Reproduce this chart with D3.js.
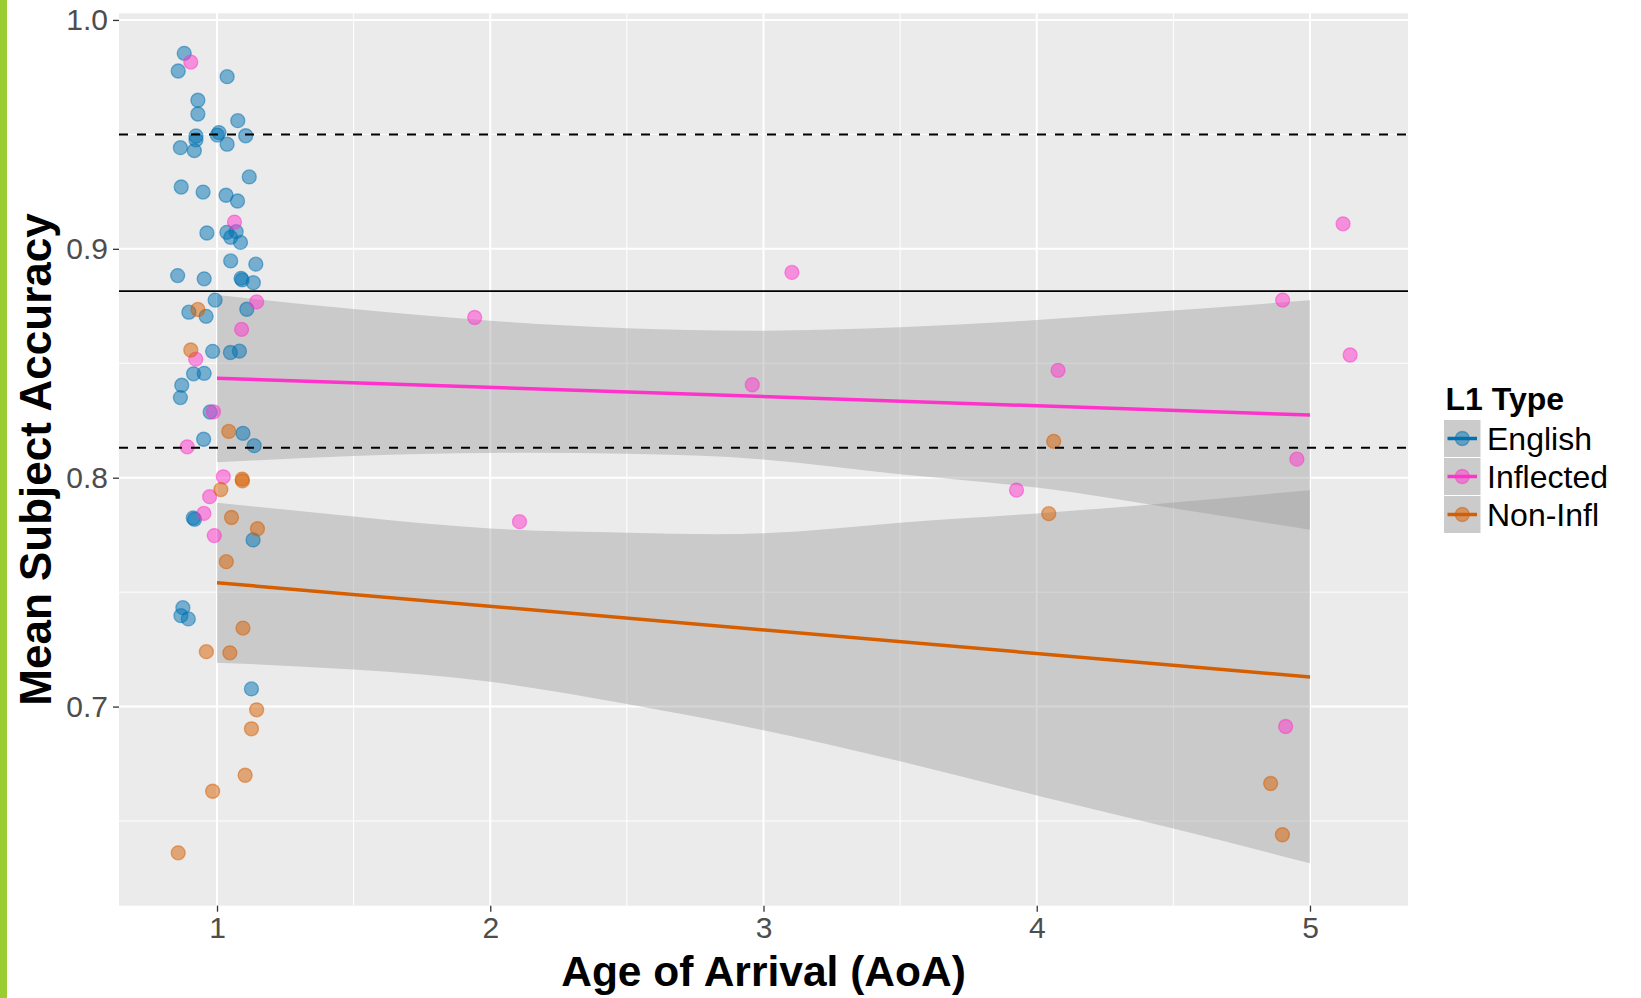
<!DOCTYPE html>
<html>
<head>
<meta charset="utf-8">
<script src="https://cdn.jsdelivr.net/npm/d3@7"></script>
<style>
body { margin: 0; background: #fff; }
text { font-family: "Liberation Sans", Arial, Helvetica, sans-serif; }
</style>
</head>
<body>
<div class="vis-area"></div>
<script>
var width = 1641;
var height = 998;
var panel = {left: 119, right: 1408, top: 13.3, bottom: 905.7};

// groups + colours
var groups = ['English', 'Inflected', 'Non-Infl'];
var groupColors = ['#0072B2', '#FF33CC', '#D55E00'];

// points
var englishAoa = [0.880,0.858,1.037,0.930,0.930,1.076,0.923,0.923,0.866,0.917,1.007,1.001,1.105,1.037,1.118,0.869,0.949,1.033,1.075,0.963,1.036,1.070,1.050,1.086,1.050,1.142,0.856,0.953,1.088,1.092,1.133,0.993,0.897,0.960,1.109,0.984,1.049,1.082,0.914,0.953,0.871,0.866,0.975,1.095,0.951,1.136,0.913,0.918,1.132,0.875,0.868,0.895,1.126];
var englishAcc = [0.9854,0.9777,0.9752,0.9649,0.9589,0.9560,0.9493,0.9476,0.9442,0.9429,0.9508,0.9497,0.9494,0.9457,0.9314,0.9270,0.9248,0.9234,0.9209,0.9069,0.9072,0.9075,0.9050,0.9028,0.8947,0.8933,0.8883,0.8869,0.8871,0.8864,0.8852,0.8776,0.8723,0.8705,0.8736,0.8552,0.8547,0.8553,0.8454,0.8456,0.8404,0.8350,0.8287,0.8194,0.8168,0.8140,0.7824,0.7818,0.7728,0.7432,0.7397,0.7383,0.7077];

var inflectedAoa = [0.904,1.064,1.145,1.090,0.922,0.987,0.891,1.023,0.973,0.952,0.990,1.943,2.107,2.959,3.104,3.926,4.078,4.900,4.952,5.121,5.147,4.911];
var inflectedAcc = [0.9816,0.9117,0.8768,0.8648,0.8518,0.8288,0.8135,0.8004,0.7917,0.7844,0.7747,0.8700,0.7808,0.8406,0.8897,0.7946,0.8469,0.8776,0.8081,0.9109,0.8536,0.6913];

var nonInflAoa = [0.930,0.904,1.043,1.092,1.093,1.014,1.053,1.148,1.034,1.095,0.961,1.047,1.145,1.126,1.103,0.984,0.858,4.044,4.062,4.856,4.899];
var nonInflAcc = [0.8735,0.8558,0.8202,0.7994,0.7986,0.7948,0.7826,0.7777,0.7633,0.7343,0.7240,0.7235,0.6986,0.6903,0.6700,0.6630,0.6361,0.7843,0.8159,0.6664,0.6440];

// lm fits + confidence bands
var fitX = [1, 5];
var inflectedFit = [0.8435, 0.8274];
var nonInflFit = [0.7541, 0.7129];
var bandX = [1, 1.5, 2, 2.5, 3, 3.5, 4, 4.5, 5];
var inflectedLo = [0.8067, 0.8095, 0.8108, 0.8105, 0.8080, 0.8015, 0.7957, 0.7866, 0.7773];
var inflectedHi = [0.8798, 0.8737, 0.8686, 0.8653, 0.8642, 0.8657, 0.8689, 0.8730, 0.8775];
var nonInflLo = [0.7192, 0.7162, 0.7108, 0.7011, 0.6897, 0.6761, 0.6612, 0.6467, 0.6315];
var nonInflHi = [0.7891, 0.7830, 0.7778, 0.7760, 0.7757, 0.7803, 0.7844, 0.7892, 0.7945];

// overall mean and +/- band
var meanAcc = 0.8815;
var bandLines = [0.9499, 0.8131];

var xTicks = [1, 2, 3, 4, 5];
var xMinor = [1.5, 2.5, 3.5, 4.5];
var yTicks = [0.7, 0.8, 0.9, 1.0];
var yMinor = [0.65, 0.75, 0.85, 0.95];

var x = d3.scaleLinear().domain([0.6413, 5.3587]).range([panel.left, panel.right]);
var y = d3.scaleLinear().domain([0.6130, 1.0029]).range([panel.bottom, panel.top]);

var svg = d3.select('.vis-area')
  .append('svg')
  .attr('width', width)
  .attr('height', height);

// green strip on left edge
svg.append('rect')
  .attr('x', 0).attr('y', 0)
  .attr('width', 7).attr('height', height)
  .attr('fill', '#9ACD32');

svg.append('rect')
  .attr('x', panel.left).attr('y', panel.top)
  .attr('width', panel.right - panel.left)
  .attr('height', panel.bottom - panel.top)
  .attr('fill', '#EBEBEB');

// grid
svg.selectAll('.ygrid-minor').data(yMinor).enter().append('line')
  .attr('x1', panel.left).attr('x2', panel.right)
  .attr('y1', d => y(d)).attr('y2', d => y(d))
  .attr('stroke', '#fff').attr('stroke-width', 1);
svg.selectAll('.xgrid-minor').data(xMinor).enter().append('line')
  .attr('y1', panel.top).attr('y2', panel.bottom)
  .attr('x1', d => x(d)).attr('x2', d => x(d))
  .attr('stroke', '#fff').attr('stroke-width', 1);
svg.selectAll('.ygrid').data(yTicks).enter().append('line')
  .attr('x1', panel.left).attr('x2', panel.right)
  .attr('y1', d => y(d)).attr('y2', d => y(d))
  .attr('stroke', '#fff').attr('stroke-width', 2);
svg.selectAll('.xgrid').data(xTicks).enter().append('line')
  .attr('y1', panel.top).attr('y2', panel.bottom)
  .attr('x1', d => x(d)).attr('x2', d => x(d))
  .attr('stroke', '#fff').attr('stroke-width', 2);

function bandData(lo, hi) {
  return bandX.map((v, i) => ({x: v, lo: lo[i], hi: hi[i]}));
}

var area = d3.area()
  .x(d => x(d.x))
  .y0(d => y(d.lo))
  .y1(d => y(d.hi))
  .curve(d3.curveNatural);

svg.append('path').datum(bandData(inflectedLo, inflectedHi))
  .attr('d', area).attr('fill', '#999999').attr('fill-opacity', 0.4);
svg.append('path').datum(bandData(nonInflLo, nonInflHi))
  .attr('d', area).attr('fill', '#999999').attr('fill-opacity', 0.4);

// points
function drawPoints(xs, ys, color) {
  var pts = xs.map((v, i) => ({x: v, y: ys[i]}));
  svg.append('g').selectAll('circle')
    .data(pts)
    .enter()
    .append('circle')
    .attr('cx', d => x(d.x))
    .attr('cy', d => y(d.y))
    .attr('r', 7)
    .attr('fill', color).attr('fill-opacity', 0.5)
    .attr('stroke', color).attr('stroke-opacity', 0.5)
    .attr('stroke-width', 1.3);
}
drawPoints(englishAoa, englishAcc, groupColors[0]);
drawPoints(inflectedAoa, inflectedAcc, groupColors[1]);
drawPoints(nonInflAoa, nonInflAcc, groupColors[2]);

// fit lines
var line = d3.line().x(d => x(d[0])).y(d => y(d[1]));
svg.append('path').datum(fitX.map((v, i) => [v, inflectedFit[i]]))
  .attr('d', line).attr('fill', 'none')
  .attr('stroke', groupColors[1]).attr('stroke-width', 3.5);
svg.append('path').datum(fitX.map((v, i) => [v, nonInflFit[i]]))
  .attr('d', line).attr('fill', 'none')
  .attr('stroke', groupColors[2]).attr('stroke-width', 3.5);

// mean + band lines
svg.append('line')
  .attr('x1', panel.left).attr('x2', panel.right)
  .attr('y1', y(meanAcc)).attr('y2', y(meanAcc))
  .attr('stroke', '#000').attr('stroke-width', 1.8);
svg.selectAll('.band-line').data(bandLines).enter().append('line')
  .attr('x1', panel.left).attr('x2', panel.right)
  .attr('y1', d => y(d)).attr('y2', d => y(d))
  .attr('stroke', '#000').attr('stroke-width', 2)
  .attr('stroke-dasharray', '9,9');

// axes
var yAxis = svg.append('g')
  .attr('transform', `translate(${panel.left},0)`)
  .call(d3.axisLeft(y).tickValues(yTicks).tickFormat(d3.format('.1f')).tickSize(6).tickPadding(5));
var xAxis = svg.append('g')
  .attr('transform', `translate(0,${panel.bottom})`)
  .call(d3.axisBottom(x).tickValues(xTicks).tickFormat(d3.format('d')).tickSize(6).tickPadding(5));

[yAxis, xAxis].forEach(function(ax) {
  ax.select('.domain').remove();
  ax.selectAll('.tick line').attr('stroke', '#333').attr('stroke-width', 1.3);
  ax.selectAll('.tick text')
    .attr('fill', '#4D4D4D')
    .style('font-size', '30px')
    .style('font-family', '"Liberation Sans", Arial, sans-serif');
});

svg.append('text')
  .attr('x', (panel.left + panel.right) / 2)
  .attr('y', 986)
  .attr('text-anchor', 'middle')
  .style('font-size', '42.5px')
  .style('font-weight', 'bold')
  .text('Age of Arrival (AoA)');

svg.append('text')
  .attr('transform', `translate(51,${(panel.top + panel.bottom) / 2}) rotate(-90)`)
  .attr('text-anchor', 'middle')
  .style('font-size', '44px')
  .style('font-weight', 'bold')
  .text('Mean Subject Accuracy');

// legend
var legend = svg.append('g').attr('transform', 'translate(1444,0)');
legend.append('text')
  .attr('x', 1.5).attr('y', 410)
  .style('font-size', '32px')
  .style('font-weight', 'bold')
  .text('L1 Type');

var keys = legend.selectAll('.key')
  .data(groups)
  .enter()
  .append('g')
  .attr('transform', (d, i) => `translate(0,${420 + i * 38})`);
keys.append('rect')
  .attr('width', 36.5).attr('height', 37)
  .attr('fill', '#CBCBCB');
keys.append('line')
  .attr('x1', 3.5).attr('x2', 33)
  .attr('y1', 18.5).attr('y2', 18.5)
  .attr('stroke', (d, i) => groupColors[i])
  .attr('stroke-width', 3.5);
keys.append('circle')
  .attr('cx', 18.3).attr('cy', 18.5).attr('r', 7)
  .attr('fill', (d, i) => groupColors[i]).attr('fill-opacity', 0.5)
  .attr('stroke', (d, i) => groupColors[i]).attr('stroke-opacity', 0.5)
  .attr('stroke-width', 1.3);
keys.append('text')
  .attr('x', 43).attr('y', 30)
  .style('font-size', '32px')
  .text(d => d);
</script>
</body>
</html>
